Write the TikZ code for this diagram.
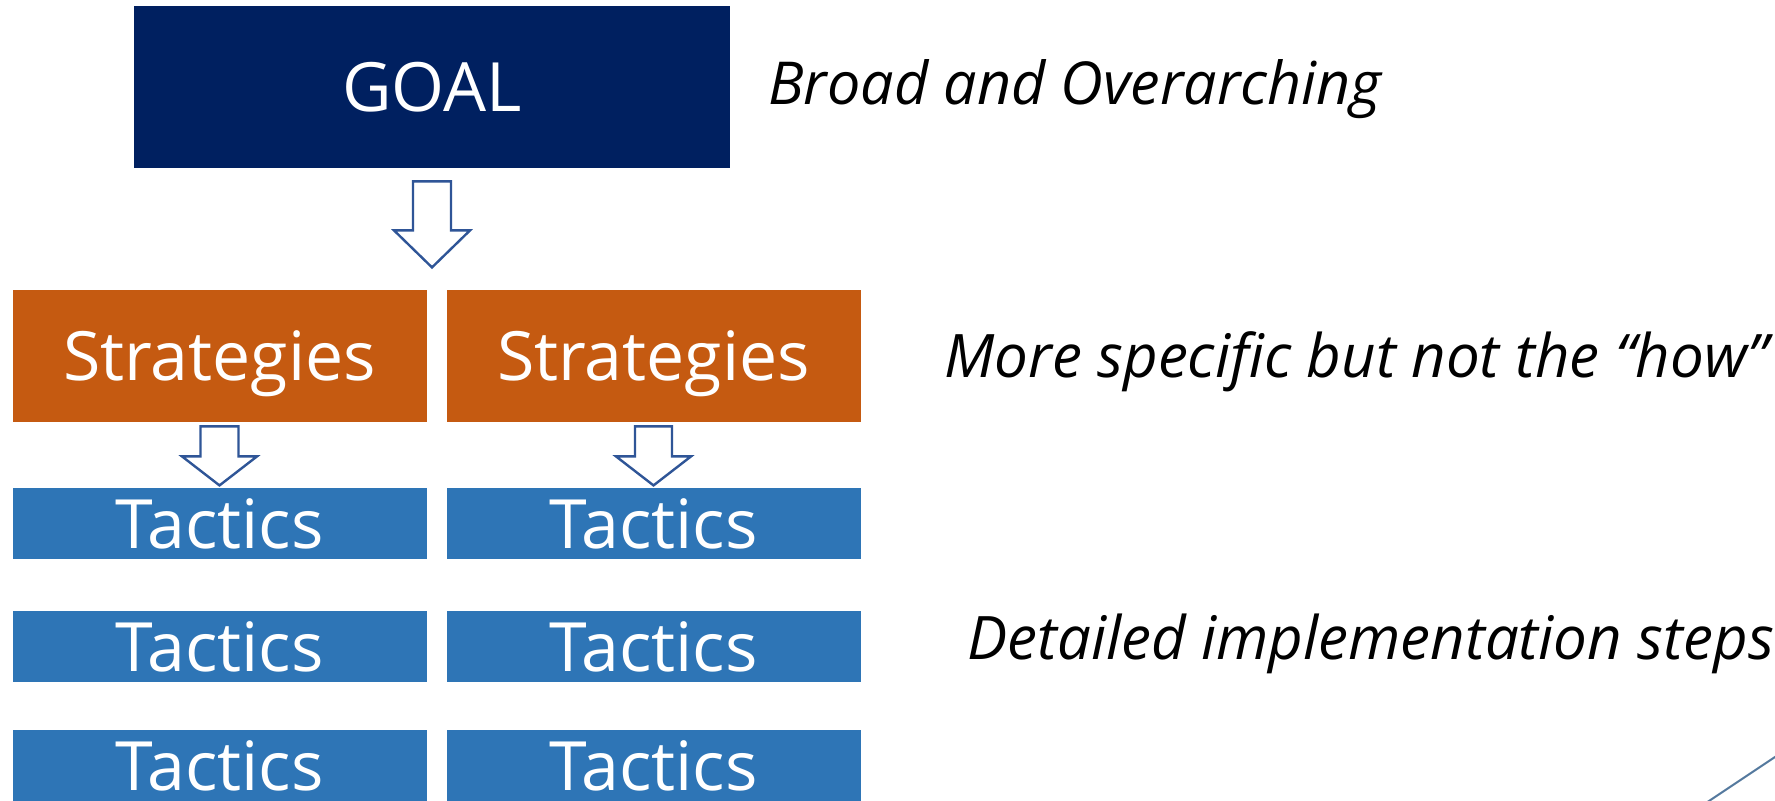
\documentclass[tikz,border=0pt]{standalone}
\usepackage{fontspec}
\setmainfont{Open Sans}
\usetikzlibrary{calc}

\definecolor{goalnavy}{RGB}{0,32,96}
\definecolor{stratorange}{RGB}{197,90,17}
\definecolor{tacticblue}{RGB}{46,117,182}
\definecolor{arrowline}{RGB}{47,85,151}
\definecolor{cornerline}{RGB}{84,121,158}

\tikzset{
	box/.style={rectangle, text=white, inner sep=0pt, text height=24.5pt, text depth=0pt, font=\fontsize{34pt}{40pt}\selectfont},
	goalbox/.style={box, fill=goalnavy, minimum width=298pt, minimum height=81pt},
	stratbox/.style={box, fill=stratorange, minimum width=207pt, minimum height=66pt},
	tacticbox/.style={box, fill=tacticblue, minimum width=207pt, minimum height=35.5pt},
	note/.style={anchor=base west, inner sep=0pt, font=\itshape\fontsize{30pt}{35pt}\selectfont},
	blockarr/.style={draw=arrowline, fill=white, line width=1.2pt, line join=miter}
}

% #1 top point, #2 shaft half width, #3 head half width, #4 shaft length, #5 head length
\newcommand{\blockdown}[5]{%
	\draw[blockarr] (#1) ++(-#2,0) -- ++(0,#4) -- ++({#2-#3},0) -- ++(#3,#5) -- ++(#3,-#5) -- ++({#2-#3},0) -- ++(0,-#4) -- cycle;}

\begin{document}
\begin{tikzpicture}[x=0.5pt,y=-0.5pt]
	\useasboundingbox[fill=white] (0,0) rectangle (1775,801);
	% boxes
	\node[goalbox] (goal) at (432,87) {GOAL};
	\node[stratbox] (stratA) at (219.5,356) {Strategies};
	\node[stratbox] (stratB) at (653.5,356) {Strategies};
	\node[tacticbox] (tacA1) at (219.5,523.5) {Tactics};
	\node[tacticbox] (tacB1) at (653.5,523.5) {Tactics};
	\node[tacticbox] (tacA2) at (219.5,646.5) {Tactics};
	\node[tacticbox] (tacB2) at (653.5,646.5) {Tactics};
	\node[tacticbox] (tacA3) at (219.5,765.5) {Tactics};
	\node[tacticbox] (tacB3) at (653.5,765.5) {Tactics};
	% arrows
	\coordinate (goaltop) at ($(goal.south)+(0,13)$);
	\coordinate (stratAtop) at ($(stratA.south)+(0,4)$);
	\coordinate (stratBtop) at ($(stratB.south)+(0,4)$);
	\blockdown{goaltop}{19}{38}{49}{37}
	\blockdown{stratAtop}{19}{37.5}{30}{29}
	\blockdown{stratBtop}{18.5}{37.5}{30}{29}
	% notes
	\node[note, font=\itshape\fontsize{29.6pt}{35pt}\selectfont] (broad) at (768,105) {Broad and Overarching};
	\node[note] (specific) at (944,378) {More specific but not the ``how''};
	\node[note] (detail) at (967,659) {Detailed implementation steps};
	% corner line
	\coordinate (cornerlow) at (1694,811);
	\coordinate (cornerhigh) at (1790,747);
	\draw[cornerline, line width=1pt] (cornerlow) -- (cornerhigh);
\end{tikzpicture}
\end{document}
